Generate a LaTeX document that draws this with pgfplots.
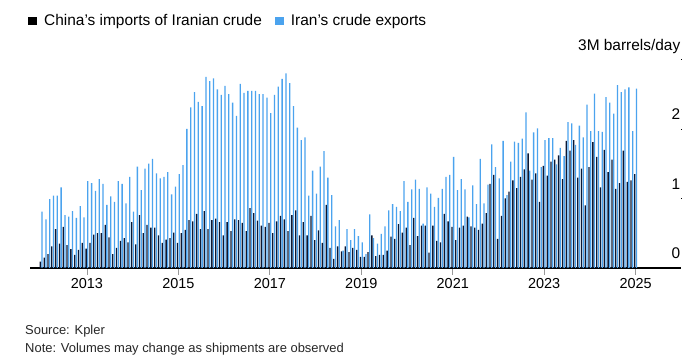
\documentclass[border=0pt]{standalone}
\usepackage{pgfplots}
\usepackage{pgfplotstable}
\pgfplotsset{compat=1.18}
\usepackage{fontspec}
\setmainfont{Liberation Sans}
\definecolor{darkc}{HTML}{0B1733}
\definecolor{lightc}{HTML}{4BA3EE}
\pgfplotstableread{
idx china iran
0 0.09 0.81
1 0.15 0.70
2 0.20 0.99
3 0.31 1.04
4 0.56 1.04
5 0.35 1.16
6 0.59 0.76
7 0.33 0.74
8 0.27 0.82
9 0.19 0.72
10 0.26 0.89
11 0.36 0.73
12 0.28 1.25
13 0.36 1.22
14 0.48 1.11
15 0.50 1.28
16 0.50 1.21
17 0.62 0.91
18 0.44 1.03
19 0.20 0.95
20 0.29 1.25
21 0.39 1.21
22 0.43 0.93
23 0.37 1.31
24 0.66 0.81
25 0.34 1.46
26 0.76 1.12
27 0.50 1.43
28 0.62 1.50
29 0.58 1.57
30 0.58 1.36
31 0.47 1.29
32 0.36 1.31
33 0.41 1.38
34 0.43 1.06
35 0.51 1.17
36 0.36 1.35
37 0.50 1.48
38 0.55 2.00
39 0.69 2.31
40 0.67 2.53
41 0.78 2.39
42 0.56 2.33
43 0.82 2.75
44 0.56 2.69
45 0.69 2.73
46 0.71 2.57
47 0.66 2.49
48 0.47 2.62
49 0.66 2.50
50 0.53 2.38
51 0.70 2.19
52 0.69 2.65
53 0.65 2.52
54 0.53 2.55
55 0.86 2.55
56 0.79 2.55
57 0.68 2.50
58 0.61 2.50
59 0.59 2.45
60 0.65 2.23
61 0.50 2.49
62 0.67 2.61
63 0.75 2.72
64 0.70 2.80
65 0.53 2.66
66 0.76 2.33
67 0.83 2.02
68 0.47 1.84
69 0.66 1.88
70 0.47 1.04
71 0.75 1.40
72 0.40 1.07
73 0.54 1.46
74 0.36 1.68
75 0.91 1.30
76 0.29 1.05
77 0.13 0.60
78 0.31 0.69
79 0.24 0.25
80 0.31 0.56
81 0.23 0.40
82 0.29 0.56
83 0.26 0.46
84 0.16 0.37
85 0.16 0.20
86 0.23 0.77
87 0.47 0.43
88 0.17 0.35
89 0.19 0.49
90 0.19 0.60
91 0.25 0.83
92 0.45 0.92
93 0.42 0.88
94 0.63 0.82
95 0.51 1.25
96 0.58 0.95
97 0.33 1.13
98 0.72 1.27
99 0.46 1.14
100 0.61 0.64
101 0.61 1.16
102 0.22 1.07
103 0.61 0.88
104 0.39 1.01
105 0.37 1.14
106 0.78 1.31
107 0.67 1.34
108 0.59 1.60
109 0.40 1.12
110 0.58 1.28
111 0.61 1.13
112 0.74 0.73
113 0.60 1.19
114 0.58 0.92
115 0.55 1.57
116 0.64 0.93
117 0.79 1.20
118 1.21 1.78
119 1.34 1.45
120 0.42 1.29
121 0.75 1.83
122 1.00 1.05
123 1.10 1.53
124 1.26 1.82
125 1.15 1.80
126 1.31 1.86
127 1.42 2.24
128 1.65 1.40
129 1.27 1.95
130 1.36 2.01
131 0.95 1.45
132 1.47 1.84
133 1.33 1.87
134 1.53 1.87
135 1.56 1.49
136 1.62 1.73
137 1.28 1.61
138 1.83 2.10
139 1.69 2.08
140 1.84 1.77
141 1.30 2.05
142 1.43 1.88
143 0.90 2.35
144 1.45 1.97
145 1.81 2.51
146 1.60 1.97
147 1.16 1.96
148 1.70 2.46
149 1.38 2.38
150 1.56 2.22
151 1.14 2.63
152 1.22 2.53
153 1.69 2.57
154 1.24 2.60
155 1.26 1.97
156 1.35 2.58
}\data
\begin{document}
\begin{tikzpicture}
\path[use as bounding box] (0,0) rectangle (700bp,359bp);
\begin{axis}[
  at={(30bp,91bp)}, anchor=south west,
  scale only axis, width=651bp, height=208.5bp,
  xmin=-2.95, xmax=167.9, ymin=0, ymax=3,
  axis x line*=bottom, axis y line*=right,
  x axis line style={black, line width=1.1bp, -},
  y axis line style={draw=none},
  xtick={12,36,60,84,108,132,156},
  xticklabels={2013,2015,2017,2019,2021,2023,2025},
  ytick={0,1,2,3},
  yticklabels={0,1,2,3M barrels/day},
  tick align=outside, major tick length=7bp,
  xtick style={draw=gray!80, line width=0.8bp},
  ytick style={draw=none},
  xticklabel style={font=\fontsize{14.5}{16}\selectfont, text=black},
  yticklabel style={font=\fontsize{15.5}{17}\selectfont, text=black,
    anchor=base east, inner sep=0pt, yshift=9bp, xshift=-7.5bp},
  /pgf/number format/assume math mode=true,
  clip=false,
  legend style={at={(-0.0031,1.187)}, anchor=west, draw=none, fill=none,
    legend columns=2, inner sep=0pt, nodes={inner sep=0pt},
    font=\fontsize{15.5}{17}\selectfont,
    /tikz/every odd column/.append style={column sep=8bp},
    /tikz/every even column/.append style={column sep=13bp}},
  legend cell align=left,
]
\addlegendimage{legend image code/.code={\fill[black] (0bp,-3.8bp) rectangle (7.6bp,3.8bp);}}
\addlegendentry{China's imports of Iranian crude}
\addlegendimage{legend image code/.code={\fill[lightc] (0bp,-3.8bp) rectangle (7.6bp,3.8bp);}}
\addlegendentry{Iran's crude exports}
\addplot[ybar, bar width=1.3bp, bar shift=0.85bp, fill=lightc, draw=none, forget plot] table[x=idx, y=iran] {\data};
\addplot[ybar, bar width=1.3bp, bar shift=-0.85bp, fill=darkc, draw=none, forget plot] table[x=idx, y=china] {\data};
\draw[black, line width=0.9bp] (rel axis cs:1,1/3) -- ++(-11bp,0);
\draw[black, line width=0.9bp] (rel axis cs:1,2/3) -- ++(-11bp,0);
\draw[black, line width=0.9bp] (rel axis cs:1,1) -- ++(-11bp,0);
\end{axis}
\node[anchor=base west, inner sep=0pt, font=\fontsize{13}{16}\selectfont, text=black!85] at (25bp,25bp) {Source: Kpler};
\node[anchor=base west, inner sep=0pt, font=\fontsize{13}{16}\selectfont, text=black!85] at (25bp,6.7bp) {Note: Volumes may change as shipments are observed};
\end{tikzpicture}
\end{document}
